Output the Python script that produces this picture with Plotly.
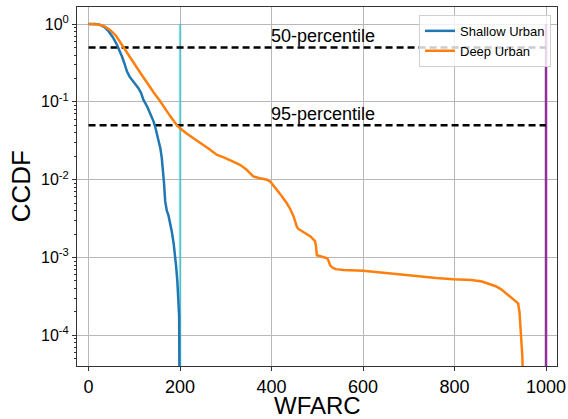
import numpy as np
import plotly.graph_objects as go

# CCDF of WFARC for the two urban scenarios
shallow_x = [0, 15, 25, 35, 44, 53, 62, 68, 73, 78, 84, 90, 95, 102, 109, 115, 120,
             128, 135, 142, 146, 150, 154, 157, 160, 163, 165, 167.5, 171, 174.7, 178,
             182, 186, 189, 191.5, 194, 196.5, 198, 198.7]
shallow_y = [1.0, 1.0, 0.977, 0.912, 0.804, 0.676, 0.542, 0.457, 0.383, 0.316, 0.245,
             0.209, 0.192, 0.174, 0.150, 0.129, 0.106, 0.0871, 0.0714, 0.0562, 0.0468,
             0.0380, 0.0302, 0.0251, 0.0191, 0.0135, 0.00891, 0.00525, 0.00398,
             0.00347, 0.00282, 0.00214, 0.00151, 0.00112, 0.000759, 0.000501,
             0.000309, 0.000174, 0.0000251]

deep_x = [0, 15, 25, 35, 47, 60, 76, 90, 100, 113, 127, 142, 155, 164, 178, 193, 200,
          215, 230, 244, 262, 280, 298, 316, 331, 345, 353, 360, 372, 382, 390, 398,
          405, 411, 422, 433, 441, 448, 452, 455, 458, 466, 475, 485, 495, 497, 499,
          510, 522, 525, 528, 533, 540, 557, 600, 650, 710, 760, 797, 837, 860, 877,
          890, 902, 912, 921, 930, 939, 942, 944, 946, 948, 950]
deep_y = [1.0, 0.991, 0.977, 0.933, 0.841, 0.708, 0.501, 0.380, 0.309, 0.237, 0.178,
          0.133, 0.105, 0.0871, 0.0661, 0.0501, 0.0457, 0.0389, 0.0339, 0.0302, 0.0251,
          0.0209, 0.0191, 0.0170, 0.0155, 0.0135, 0.0120, 0.0110, 0.0105, 0.0102,
          0.0100, 0.00933, 0.00832, 0.00741, 0.00617, 0.00501, 0.00417, 0.00339,
          0.00282, 0.00251, 0.00234, 0.00219, 0.00204, 0.00186, 0.00162, 0.00141,
          0.00107, 0.00102, 0.000977, 0.000891, 0.000794, 0.000741, 0.000708,
          0.000692, 0.000676, 0.000631, 0.000575, 0.000543, 0.000525, 0.000513,
          0.000490, 0.000457, 0.000427, 0.000389, 0.000347, 0.000309, 0.000282,
          0.000257, 0.000200, 0.000141, 0.0000851, 0.0000562, 0.0000251]

# reference levels and limits
percentile_levels = [0.5, 0.05]
percentile_labels = ["50-percentile", "95-percentile"]
level_x = [0, 1000]
limit_shallow_x = 200
limit_deep_x = 1000
limit_y = [1.0, 1e-5]

x_ticks = [0, 200, 400, 600, 800, 1000]
y_ticks = [1, 0.1, 0.01, 0.001, 0.0001]
y_ticktext = ["10<sup>0</sup>", "10<sup>-1</sup>", "10<sup>-2</sup>",
              "10<sup>-3</sup>", "10<sup>-4</sup>"]
x_label = "WFARC"
y_label = "CCDF"

FONT = "Liberation Sans, Arial, Helvetica, sans-serif"

fig = go.Figure()

fig.add_trace(go.Scatter(x=[limit_shallow_x] * 2, y=limit_y, mode="lines",
                         line=dict(color="rgba(23,190,207,0.55)", width=2.5),
                         showlegend=False, hoverinfo="skip"))
fig.add_trace(go.Scatter(x=[limit_deep_x] * 2, y=limit_y, mode="lines",
                         line=dict(color="#8e3396", width=2.5),
                         showlegend=False, hoverinfo="skip"))
for lvl in percentile_levels:
    fig.add_trace(go.Scatter(x=level_x, y=[lvl, lvl], mode="lines",
                             line=dict(color="black", width=2.5, dash="7px,4px"),
                             showlegend=False, hoverinfo="skip"))

fig.add_trace(go.Scatter(x=shallow_x, y=shallow_y, mode="lines", name="Shallow Urban",
                         line=dict(color="#1f77b4", width=2.5)))
fig.add_trace(go.Scatter(x=deep_x, y=deep_y, mode="lines", name="Deep Urban",
                         line=dict(color="#ff7f0e", width=2.5)))

for lvl, label in zip(percentile_levels, percentile_labels):
    fig.add_annotation(x=400, y=np.log10(lvl), text=label, showarrow=False,
                       xanchor="left", yanchor="bottom", xref="x", yref="y",
                       xshift=-3, yshift=-1,
                       font=dict(size=18, color="black", family=FONT))

# axis labels
fig.add_annotation(x=0.5, y=-0.111, xref="paper", yref="paper", text=x_label,
                   showarrow=False, xanchor="center", yanchor="middle",
                   font=dict(size=24, color="black", family=FONT))
fig.add_annotation(x=-0.117, y=0.5, xref="paper", yref="paper", text=y_label,
                   showarrow=False, xanchor="center", yanchor="middle", textangle=-90,
                   font=dict(size=26, color="black", family=FONT))

# minor log ticks (2..9 per decade)
minor_vals = [m * 10.0 ** e for e in range(-5, 1) for m in range(2, 10)]

fig.update_layout(
    width=568, height=419,
    margin=dict(l=77, r=11, t=7, b=53),
    paper_bgcolor="white", plot_bgcolor="white",
    font=dict(family=FONT, color="black"),
    showlegend=True,
    legend=dict(x=0.9875, y=0.978, xanchor="right", yanchor="top",
                bgcolor="rgba(255,255,255,0.8)", bordercolor="#d0d0d0", borderwidth=1,
                font=dict(size=13, color="black", family=FONT), tracegroupgap=0),
)

fig.update_xaxes(
    range=[-25.3, 1024], tickmode="array", tickvals=x_ticks, automargin=False,
    showgrid=True, gridcolor="#b8b8b8", gridwidth=1,
    showline=True, linecolor="#333333", linewidth=1, mirror=True,
    ticks="outside", ticklen=4, tickcolor="#333333",
    tickfont=dict(size=18, family=FONT, color="black"),
    zeroline=False,
)
fig.update_yaxes(
    type="log", range=[-4.395, 0.219], tickmode="array", tickvals=y_ticks,
    ticktext=y_ticktext, automargin=False,
    showgrid=True, gridcolor="#b8b8b8", gridwidth=1,
    showline=True, linecolor="#333333", linewidth=1, mirror=True,
    ticks="outside", ticklen=4, tickcolor="#333333",
    tickfont=dict(size=16, family=FONT, color="black"),
    minor=dict(tickmode="array", tickvals=minor_vals, ticks="outside", ticklen=2,
               tickcolor="#333333", showgrid=False),
    zeroline=False,
)

fig.write_html("out.html")
